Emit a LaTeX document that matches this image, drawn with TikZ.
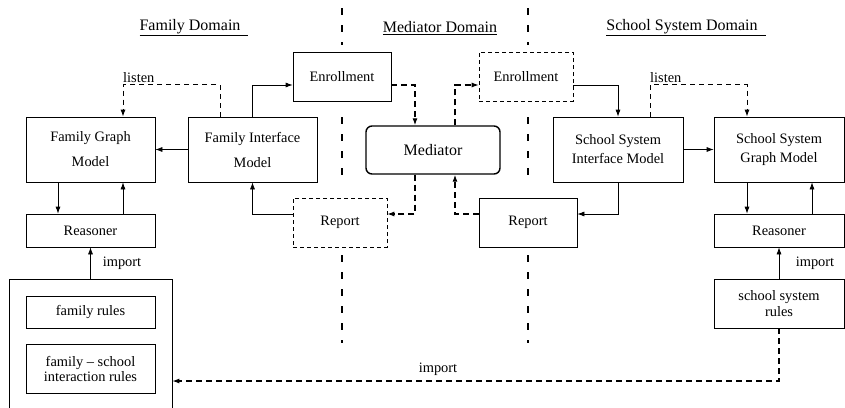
\documentclass[tikz,border=0pt]{standalone}
\usepackage{fontspec}
\setmainfont{Liberation Serif}
\usetikzlibrary{arrows.meta}
\begin{document}
\begin{tikzpicture}[x=1pt,y=-1pt,
  box/.style={draw, line width=0.7pt, inner sep=0pt, align=center, font=\fontsize{14.4}{19}\selectfont},
  dbox/.style={box, line width=0.6pt, dash pattern=on 4pt off 3pt},
  conn/.style={line width=0.7pt, -{Latex[length=7pt,width=5pt]}},
  dconn/.style={conn, line width=1.1pt, dash pattern=on 6pt off 4pt},
  border/.style={line width=2pt, dash pattern=on 7pt off 10pt},
  lbl/.style={font=\fontsize{14.4}{17}\selectfont, inner sep=0pt},
  title/.style={font=\fontsize{16}{19}\selectfont, inner sep=0pt}]
\useasboundingbox (0,0) rectangle (845,407);

% titles
\node[title] (t1) at (194,28) {\underline{Family Domain\ \ }};
\node[title] (t2) at (440,28) {\underline{Mediator Domain}};
\node[title] (t3) at (686,28) {\underline{School System Domain\ \ }};

% domain borders
\foreach \x in {342,528}{
  \draw[border] (\x,8) -- (\x,45);
  \draw[border] (\x,117) -- (\x,175);
  \draw[border] (\x,255) -- (\x,343);
}

% boxes
\node[box, minimum width=98pt, minimum height=49pt] (enrL) at (342,76.5) {Enrollment};
\node[dbox, minimum width=94pt, minimum height=49pt] (enrR) at (526,76.5) {Enrollment};
\node[box, line width=1.4pt, rounded corners=6pt, minimum width=134pt, minimum height=48pt,
      font=\fontsize{16}{19}\selectfont] (med) at (433,150) {Mediator};
\node[box, minimum width=129pt, minimum height=65pt, font=\fontsize{14.4}{25}\selectfont] (fg) at (90.5,149.5) {Family Graph\\Model};
\node[box, minimum width=129pt, minimum height=65pt, font=\fontsize{14.4}{25}\selectfont] (fi) at (252.5,149.5) {Family Interface\\Model};
\node[box, minimum width=130pt, minimum height=65pt] (ssi) at (618,149.5) {School System\\Interface Model};
\node[box, minimum width=130pt, minimum height=65pt] (ssg) at (779,149.5) {School System\\Graph Model};
\node[box, minimum width=129pt, minimum height=33pt] (reasL) at (90.5,230.5) {Reasoner};
\node[dbox, minimum width=94pt, minimum height=49pt] (repL) at (340,222.5) {Report};
\node[box, minimum width=98pt, minimum height=49pt] (repR) at (528,222.5) {Report};
\node[box, minimum width=130pt, minimum height=33pt] (reasR) at (779,230.5) {Reasoner};
\node[box, minimum width=163pt, minimum height=141pt] (outer) at (90.5,349.5) {};
\node[box, minimum width=129pt, minimum height=32pt] (famr) at (90.5,312) {family rules};
\node[box, minimum width=129pt, minimum height=49pt, font=\fontsize{14.4}{15}\selectfont] (fsr) at (90.5,368.5) {family -- school\\interaction rules};
\node[box, minimum width=130pt, minimum height=49pt, font=\fontsize{14.4}{16}\selectfont] (ssr) at (779,303.5) {school system\\rules};

% connectors, family side
\draw[conn] (fi.west) -- (fg.east);
\draw[dconn, line width=1pt, dash pattern=on 5pt off 4pt] ([xshift=-32.5pt]fi.north) -- ++(0,-32) -| ([xshift=32.5pt]fg.north);
\node[lbl, anchor=base west] (lis1) at (123,82) {listen};
\draw[conn] (fi.north) |- ([yshift=-8.5pt]enrL.west);
\draw[conn] ([yshift=8.5pt]repL.west) -| (fi.south);
\draw[conn] ([xshift=-32.5pt]fg.south) -- ([xshift=-32.5pt]reasL.north);
\draw[conn] ([xshift=32.5pt]reasL.north) -- ([xshift=32.5pt]fg.south);
\draw[conn] (outer.north) -- (reasL.south);
\node[lbl] (imp1) at (122,263) {import};

% mediator
\draw[dconn] ([yshift=-8.5pt]enrL.east) -| ([xshift=-18pt]med.north);
\draw[dconn] ([xshift=22pt]med.north) |- ([yshift=-8.5pt]enrR.west);
\draw[dconn] ([xshift=-18pt]med.south) |- ([yshift=8.5pt]repL.east);
\draw[dconn] ([yshift=8.5pt]repR.west) -| ([xshift=22pt]med.south);

% school side
\draw[conn] ([yshift=-8.5pt]enrR.east) -| (ssi.north);
\draw[dconn, line width=1pt, dash pattern=on 5pt off 4pt] ([xshift=32pt]ssi.north) -- ++(0,-32) -| ([xshift=-32pt]ssg.north);
\node[lbl, anchor=base west] (lis2) at (650,82) {listen};
\draw[conn] (ssi.east) -- (ssg.west);
\draw[conn] (ssi.south) |- ([yshift=8.5pt]repR.east);
\draw[conn] ([xshift=-32pt]ssg.south) -- ([xshift=-32pt]reasR.north);
\draw[conn] ([xshift=33pt]reasR.north) -- ([xshift=33pt]ssg.south);
\draw[conn] (ssr.north) -- (reasR.south);
\node[lbl] (imp2) at (815,263) {import};

% bottom import
\draw[dconn] (ssr.south) |- ([yshift=-31.5pt]outer.east);
\node[lbl] (imp3) at (438,369) {import};
\end{tikzpicture}
\end{document}
